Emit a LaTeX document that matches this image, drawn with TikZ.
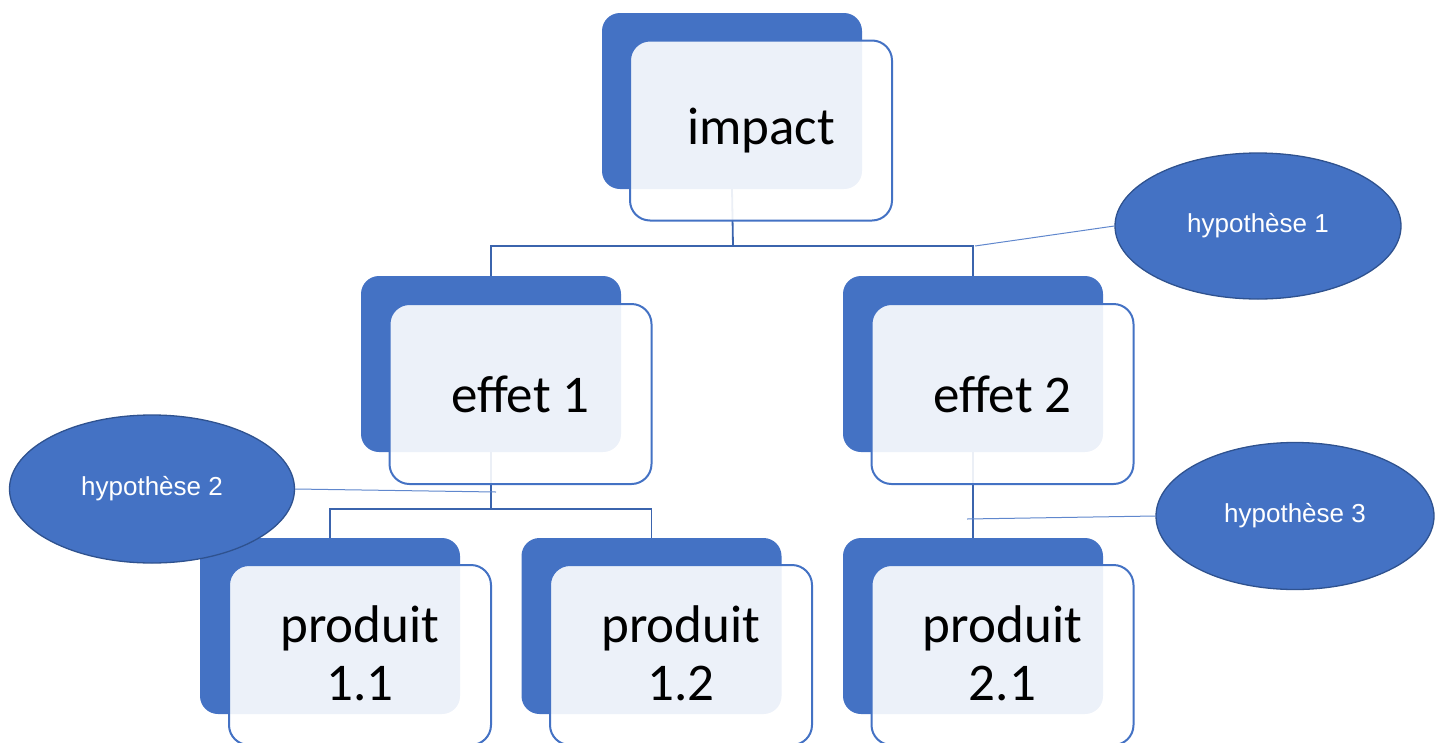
\documentclass[tikz,border=0pt]{standalone}
\usepackage{fontspec}
\setmainfont{Carlito}
\newfontfamily\arialf{Liberation Sans}
\usetikzlibrary{shapes.geometric}
\definecolor{blu}{HTML}{4472C4}
\definecolor{dblu}{HTML}{2F528F}
\definecolor{lnk}{HTML}{3B64AD}
\tikzset{
  backbox/.style={draw=none, fill=blu, rounded corners=18pt, minimum width=260pt, minimum height=176pt, inner sep=0pt},
  frontbox/.style={draw=blu, line width=2pt, fill=white, fill opacity=0.9, text opacity=1, rounded corners=20pt, minimum width=262pt, minimum height=180pt, inner sep=0pt, align=center, font=\fontsize{53}{58}\selectfont},
  link/.style={draw=lnk, line width=1.8pt},
  hyplink/.style={draw=blu!85!white, line width=1pt},
  hyp/.style={ellipse, draw=dblu, line width=1.3pt, fill=blu, text=white, inner sep=0pt, font=\arialf\fontsize{26}{30}\selectfont}
}
\begin{document}
\begin{tikzpicture}[x=1pt,y=-1pt]
\clip (0,0) rectangle (1435,742);
% back boxes
\node[backbox] (ib) at (732,101) {};
\node[backbox] (e1b) at (491,364) {};
\node[backbox] (e2b) at (973,364) {};
\node[backbox] (p11b) at (330,626) {};
\node[backbox] (p12b) at (651.5,626) {};
\node[backbox] (p21b) at (973,626) {};
% junctions
\coordinate (j0) at (733,246);
\coordinate (j1) at (491,509);
% connectors
\draw[link] (ib.south) -- (j0);
\draw[link] (e1b.north) |- (j0) -| (e2b.north);
\draw[link] (e1b.south) -- (j1);
\draw[link] (p11b.north) |- (j1) -| (p12b.north);
\draw[link] (e2b.south) -- (p21b.north);
% front boxes
\node[frontbox] (if) at (761,130.5) {\raisebox{-3pt}{impact}};
\node[frontbox] (e1f) at (520.5,394) {effet 1};
\node[frontbox] (e2f) at (1002.5,394) {effet 2};
\node[frontbox] (p11f) at (360,655) {\raisebox{4pt}{produit}\\\raisebox{4pt}{1.1}};
\node[frontbox] (p12f) at (681,655) {\raisebox{4pt}{produit}\\\raisebox{4pt}{1.2}};
\node[frontbox] (p21f) at (1002.5,655) {\raisebox{4pt}{produit}\\\raisebox{4pt}{2.1}};
% hypotheses
\node[hyp, minimum width=286pt, minimum height=146pt] (h1) at (1258,226) {hypothèse 1};
\node[hyp, minimum width=285pt, minimum height=148pt] (h2) at (152,489) {hypothèse 2};
\node[hyp, minimum width=278pt, minimum height=147pt] (h3) at (1295,516) {hypothèse 3};
\coordinate (t1) at (975,246);
\coordinate (t2) at (496,492);
\coordinate (t3) at (967,519);
\draw[hyplink] (h1.west) -- (t1);
\draw[hyplink] (h2.east) -- (t2);
\draw[hyplink] (h3.west) -- (t3);
\end{tikzpicture}
\end{document}
